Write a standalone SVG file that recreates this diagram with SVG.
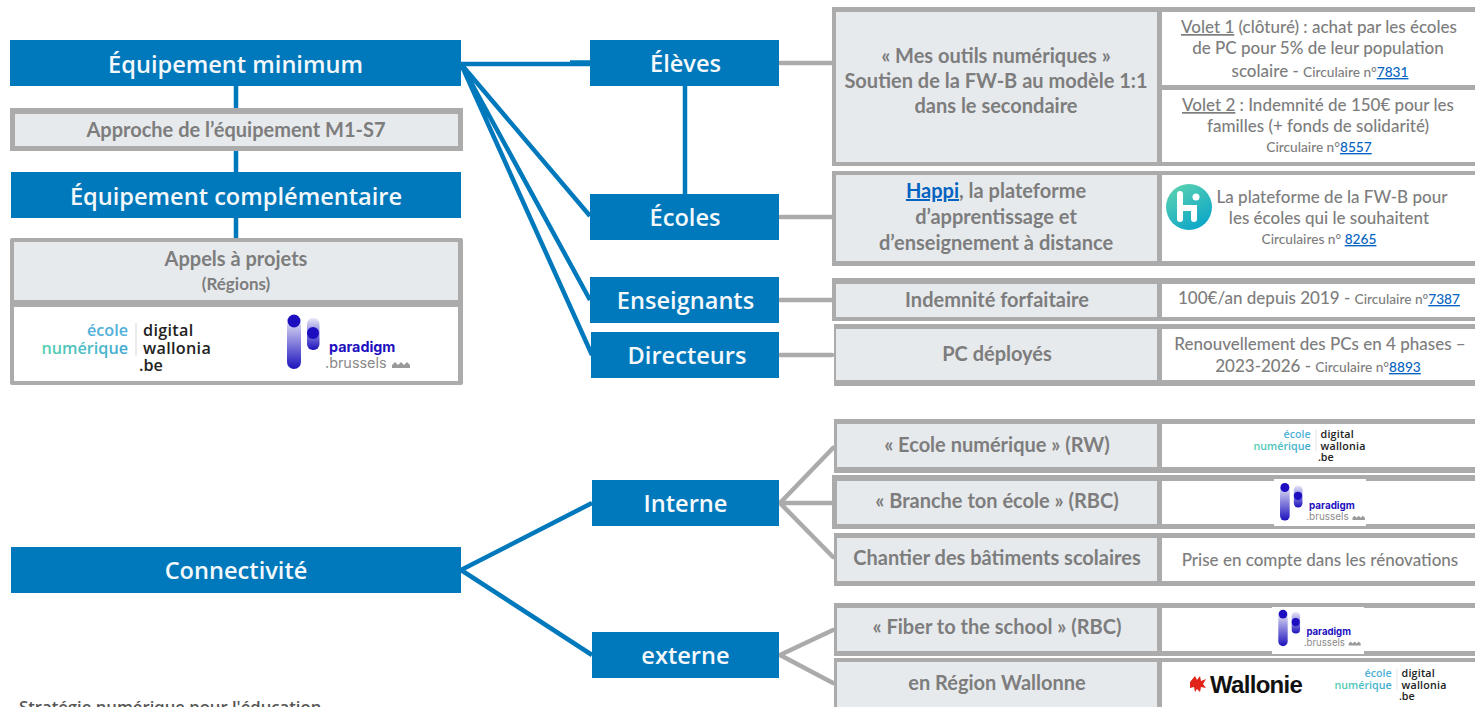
<svg xmlns="http://www.w3.org/2000/svg" width="1475" height="707" viewBox="0 0 1475 707">
<style>
.blue{fill:#0079bc}
.frame{fill:#ababab}
.c1{fill:#e7eaed}
.c2{fill:#fff}
.bl{font-family:"Open Sans","Noto Sans",sans-serif;font-weight:600;font-size:23.6px;fill:#f4f8fb;text-anchor:middle}
.h{font-family:Lato,"Liberation Sans",sans-serif;font-weight:700;font-size:20px;fill:#7d7d7d;text-anchor:middle}
.t{font-family:Lato,"Liberation Sans",sans-serif;font-weight:500;font-size:17px;fill:#7d7d7d;text-anchor:middle}
.s{font-size:13.7px}
.u{text-decoration:underline}
.a{fill:#0563c1;text-decoration:underline}
.cb{stroke:#0079bc;stroke-width:4.5;fill:none}
.cg{stroke:#ababab;stroke-width:4.5;fill:none;stroke-linecap:round}
.en{font-family:"Open Sans","DejaVu Sans",sans-serif;font-weight:600;font-size:16.2px}
.pd{font-family:Inter,"Open Sans",sans-serif}
</style>
<defs>
<linearGradient id="barA" x1="0" y1="0" x2="0" y2="1"><stop offset="0" stop-color="#e8e8f8"/><stop offset="1" stop-color="#1d12bd"/></linearGradient>
<linearGradient id="numG" x1="0" y1="0" x2="1" y2="0"><stop offset="0" stop-color="#55d0b0"/><stop offset="1" stop-color="#3fa8d4"/></linearGradient>
<linearGradient id="hapG" x1="0" y1="0" x2="0.6" y2="1"><stop offset="0" stop-color="#63d6ae"/><stop offset="1" stop-color="#0ea8c8"/></linearGradient>
<g id="logoEcole">
<text class="en" x="128" y="336" text-anchor="end" fill="#4fb0d8">école</text>
<text class="en" x="128" y="354" text-anchor="end" fill="url(#numG)">numérique</text>
<rect x="135.500" y="323" width="1" height="33" fill="#d8d8d8"/>
<text class="en" x="143" y="336" fill="#222" letter-spacing=".3">digital</text>
<text class="en" x="143" y="354" fill="#222" letter-spacing=".3">wallonia</text>
<text class="en" x="139" y="371" fill="#222">.be</text>
</g>
<g id="logoParadigm">
<rect x="287" y="318" width="14" height="51" rx="7" fill="url(#barA)"/>
<circle cx="294" cy="321" r="6.500" fill="#1d0fc0"/>
<rect x="307" y="318" width="12.500" height="32" rx="6" fill="url(#barA)"/>
<circle cx="313" cy="333" r="6" fill="#1d0fc0"/>
<text class="pd" x="329" y="352" font-weight="700" font-size="14.300" fill="#1d0fc0">paradigm</text>
<text class="pd" x="325" y="368" font-size="14.400" fill="#8a8a8a">.brussels</text>
<path d="M392 368v-3l3-3 3 3 3-3 3 3 3-3 3 3v3z" fill="#9a9a9a"/>
</g>
</defs>

<g id="connectors">
<path class="cb" d="M236 86V108M236 151V172M236 218V238"/>
<path class="cb" d="M461 64H590M570 62.500H590"/>
<path class="cb" d="M461 64L590 216M461 64L590 300M461 64L592 355"/>
<path class="cb" d="M685 86V194"/>
<path class="cb" d="M461 570L592 503M461 570L592 655"/>
<path class="cg" d="M780 63H832M780 217H832M780 300H832M780 355H832"/>
<path class="cg" d="M780 503L833 448M780 503H833M780 503L833 557"/>
<path class="cg" d="M780 655L833 630M780 655L833 683"/>
</g>

<g id="n-equip-min"><rect class="blue" x="10" y="40" width="451" height="46"/><text class="bl" x="235.500" y="72.500">Équipement minimum</text></g>
<g id="n-approche"><rect class="frame" x="10" y="108" width="453" height="43"/><rect class="c1" x="15" y="114" width="443" height="32"/><text class="h" x="236" y="137">Approche de l’équipement M1-S7</text></g>
<g id="n-equip-comp"><rect class="blue" x="11" y="172" width="450" height="46"/><text class="bl" x="236" y="204.500">Équipement complémentaire</text></g>
<g id="n-appels">
<rect class="frame" x="10" y="238" width="453" height="147" rx="2"/>
<rect class="c1" x="14" y="242" width="444" height="58"/>
<rect class="c2" x="14" y="307" width="444" height="74"/>
<text class="h" x="236" y="266">Appels à projets</text>
<text class="h" x="236" y="290" style="font-size:17px">(Régions)</text>
<use href="#logoEcole"/>
<use href="#logoParadigm"/>
</g>

<g id="n-eleves"><rect class="blue" x="590" y="40" width="189" height="46"/><text class="bl" x="685.500" y="72">Élèves</text></g>
<g id="n-ecoles"><rect class="blue" x="590" y="194" width="189" height="46"/><text class="bl" x="685" y="226">Écoles</text></g>
<g id="n-enseignants"><rect class="blue" x="590" y="277" width="189" height="46"/><text class="bl" x="685.500" y="309">Enseignants</text></g>
<g id="n-directeurs"><rect class="blue" x="591" y="332" width="188" height="46"/><text class="bl" x="687" y="364">Directeurs</text></g>
<g id="n-connectivite"><rect class="blue" x="11" y="547" width="450" height="46"/><text class="bl" x="236" y="579">Connectivité</text></g>
<g id="n-interne"><rect class="blue" x="592" y="480" width="187" height="46"/><text class="bl" x="685.500" y="512">Interne</text></g>
<g id="n-externe"><rect class="blue" x="592" y="632" width="187" height="46"/><text class="bl" x="685.500" y="664">externe</text></g>

<g id="n-mes-outils">
<rect class="frame" x="832" y="7" width="643" height="159"/>
<rect class="c1" x="836" y="12" width="321" height="150"/>
<rect class="c2" x="1162" y="12" width="313" height="73"/>
<rect class="c2" x="1162" y="90" width="313" height="72"/>
<text class="h" x="996" y="63">« Mes outils numériques »</text>
<text class="h" x="996" y="88">Soutien de la FW-B au modèle 1:1</text>
<text class="h" x="996" y="113">dans le secondaire</text>
<text class="t" x="1319" y="33"><tspan class="u">Volet 1</tspan> (clôturé) : achat par les écoles</text>
<text class="t" x="1318" y="54">de PC pour 5% de leur population</text>
<text class="t" x="1320" y="77">scolaire - <tspan class="s">Circulaire n°</tspan><tspan class="a s">7831</tspan></text>
<text class="t" x="1318" y="111"><tspan class="u">Volet 2</tspan> : Indemnité de 150€ pour les</text>
<text class="t" x="1318" y="132">familles (+ fonds de solidarité)</text>
<text class="t s" x="1319" y="152">Circulaire n°<tspan class="a">8557</tspan></text>
</g>
<g id="n-happi">
<rect class="frame" x="832" y="171" width="643" height="95"/>
<rect class="c1" x="836" y="175" width="321" height="86"/>
<rect class="c2" x="1162" y="175" width="313" height="86"/>
<text class="h" x="996" y="198"><tspan class="a">Happi</tspan>, la plateforme</text>
<text class="h" x="996" y="224">d’apprentissage et</text>
<text class="h" x="996" y="250">d’enseignement à distance</text>
<circle cx="1189" cy="207" r="23" fill="url(#hapG)"/>
<path d="M1180 194V219M1180 208H1194V219" stroke="#fff" stroke-width="6" stroke-linecap="round" fill="none"/>
<circle cx="1196" cy="197" r="3.500" fill="#fff"/>
<text class="t" x="1332" y="203">La plateforme de la FW-B pour</text>
<text class="t" x="1329" y="224">les écoles qui le souhaitent</text>
<text class="t s" x="1319" y="244">Circulaires n° <tspan class="a">8265</tspan></text>
</g>
<g id="n-indemnite">
<rect class="frame" x="832" y="278" width="643" height="43"/>
<rect class="c1" x="836" y="284" width="321" height="33"/>
<rect class="c2" x="1162" y="284" width="313" height="33"/>
<text class="h" x="997" y="307">Indemnité forfaitaire</text>
<text class="t" x="1319" y="304">100€/an depuis 2019 - <tspan class="s">Circulaire n°</tspan><tspan class="a s">7387</tspan></text>
</g>
<g id="n-pc">
<rect class="frame" x="834" y="324" width="641" height="62"/>
<rect class="c1" x="836" y="329" width="321" height="51"/>
<rect class="c2" x="1162" y="329" width="313" height="51"/>
<text class="h" x="997" y="361">PC déployés</text>
<text class="t" x="1320" y="350">Renouvellement des PCs en 4 phases –</text>
<text class="t" x="1318" y="372">2023-2026 - <tspan class="s">Circulaire n°</tspan><tspan class="a s">8893</tspan></text>
</g>
<g id="n-ecole-num">
<rect class="frame" x="834" y="419" width="641" height="54"/>
<rect class="c1" x="837" y="424" width="320" height="43"/>
<rect class="c2" x="1162" y="424" width="313" height="43"/>
<text class="h" x="997" y="452">« Ecole numérique » (RW)</text>
<use href="#logoEcole" transform="translate(1226.200 216.300) scale(.66)"/>
</g>
<g id="n-branche">
<rect class="frame" x="832" y="475" width="643" height="54"/>
<rect class="c1" x="837" y="481" width="320" height="43"/>
<rect class="c2" x="1162" y="481" width="313" height="43"/>
<text class="h" x="997" y="508">« Branche ton école » (RBC)</text>
<rect class="c2" x="1274" y="479" width="92" height="47"/>
<use href="#logoParadigm" transform="translate(1082 266) scale(.69)"/>
</g>
<g id="n-chantier">
<rect class="frame" x="834" y="533" width="641" height="53"/>
<rect class="c1" x="837" y="538" width="320" height="43"/>
<rect class="c2" x="1162" y="538" width="313" height="43"/>
<text class="h" x="997" y="565">Chantier des bâtiments scolaires</text>
<text class="t" x="1320" y="566">Prise en compte dans les rénovations</text>
</g>
<g id="n-fiber">
<rect class="frame" x="834" y="603" width="641" height="53"/>
<rect class="c1" x="837" y="608" width="320" height="43"/>
<rect class="c2" x="1162" y="608" width="313" height="43"/>
<text class="h" x="997" y="634">« Fiber to the school » (RBC)</text>
<rect class="c2" x="1272" y="607" width="92" height="47"/>
<use href="#logoParadigm" transform="translate(1086 399) scale(.67)"/>
</g>
<g id="n-wallonne">
<rect class="frame" x="834" y="658" width="641" height="49"/>
<rect class="c1" x="837" y="662" width="320" height="45"/>
<rect class="c2" x="1162" y="662" width="313" height="45"/>
<text class="h" x="997" y="690">en Région Wallonne</text>
<path d="M1190 682l5-6 2 4 3-4 1 5 5-2-3 5 3 4-5-1-1 5-3-3-2 3-1-5-4 1z" fill="#e2231a"/>
<text x="1210" y="693" font-family="'Liberation Sans',sans-serif" font-weight="700" font-size="24" letter-spacing="-.7" fill="#111">Wallonie</text>
<use href="#logoEcole" transform="translate(1307.200 455.200) scale(.66)"/>
</g>
<text id="footer" x="19" y="713" font-family="'Open Sans',sans-serif" font-weight="600" font-size="16.700" fill="#555">Stratégie numérique pour l'éducation</text>
</svg>
